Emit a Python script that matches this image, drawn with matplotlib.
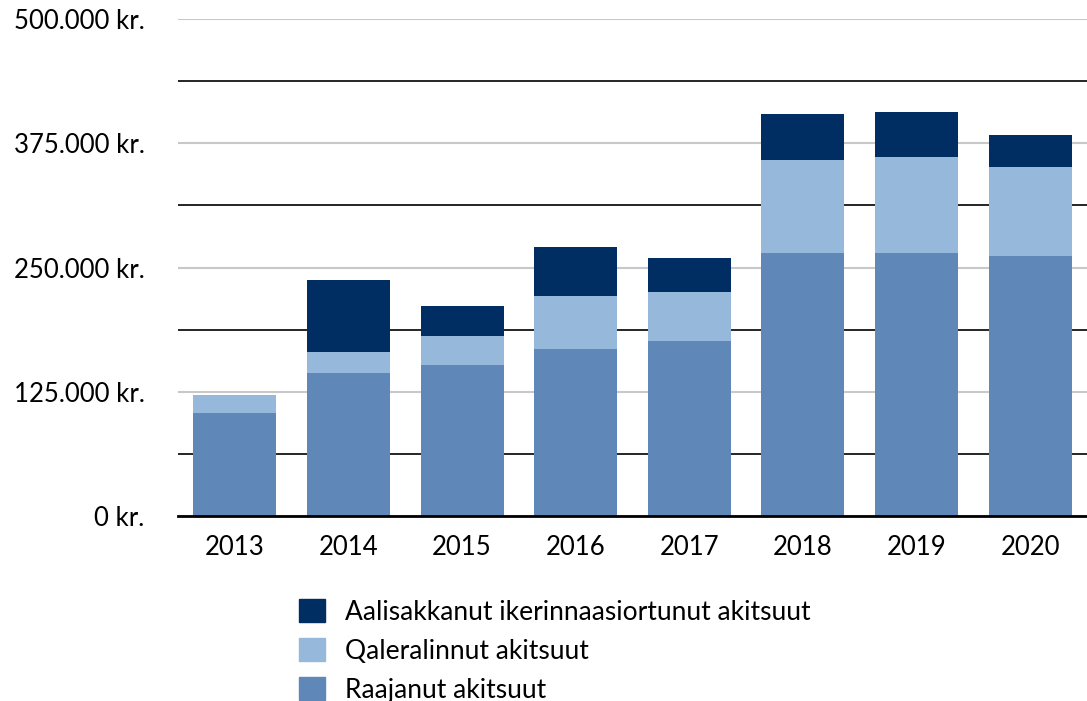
import numpy as np
import matplotlib
matplotlib.use("Agg")
import matplotlib.pyplot as plt
from matplotlib.patches import Patch
from matplotlib.ticker import MultipleLocator, FuncFormatter

plt.rcParams['font.family'] = ['Lato', 'DejaVu Sans']

years = ["2013", "2014", "2015", "2016", "2017", "2018", "2019", "2020"]
raajanut = [104000, 144000, 152000, 168000, 176000, 265000, 265000, 262000]
qaleralinnut = [18000, 21000, 29000, 53000, 49000, 93000, 96000, 89000]
aalisakkanut = [0, 72000, 30000, 50000, 35000, 46000, 45000, 32000]

names = ["Aalisakkanut ikerinnaasiortunut akitsuut", "Qaleralinnut akitsuut", "Raajanut akitsuut"]
clr_dark, clr_light, clr_mid = "#002D62", "#96B8DA", "#5F87B8"

fig = plt.figure(figsize=(10.87, 7.01), dpi=100)
ax = fig.add_axes([178/1087, 1-516/701, 1-178/1087, (516-19)/701])

x = np.arange(len(years))
w = 0.73
b1 = np.array(raajanut)
b2 = b1 + np.array(qaleralinnut)
ax.bar(x, raajanut, w, color=clr_mid, zorder=3)
ax.bar(x, qaleralinnut, w, bottom=b1, color=clr_light, zorder=3)
ax.bar(x, aalisakkanut, w, bottom=b2, color=clr_dark, zorder=3)

ax.set_xlim(-0.5, 7.5)
ax.set_ylim(0, 500000)
ax.yaxis.set_major_locator(MultipleLocator(125000))
ax.yaxis.set_minor_locator(MultipleLocator(62500))
ax.yaxis.set_major_formatter(FuncFormatter(lambda v, p: "0 kr." if v == 0 else "{:,.0f} kr.".format(v).replace(",", ".")))
ax.grid(axis="y", which="major", color="#c8c8c8", lw=1.5, zorder=1)
ax.grid(axis="y", which="minor", color="black", lw=1.2, zorder=1)
ax.tick_params(axis="y", which="both", length=0, pad=24, labelsize=18.5)
ax.tick_params(axis="x", length=0, pad=14, labelsize=18.5)
ax.set_xticks(x)
ax.set_xticklabels(years)
for s in ["top", "right", "left"]:
    ax.spines[s].set_visible(False)
ax.spines["bottom"].set_linewidth(2)
ax.spines["bottom"].set_zorder(4)

handles = [Patch(color=clr_dark), Patch(color=clr_light), Patch(color=clr_mid)]
fig.legend(handles, names, loc="upper left", bbox_to_anchor=(275/1087, 1-575/701),
           frameon=False, fontsize=19, handlelength=1.0, handleheight=1.0,
           handletextpad=0.75, labelspacing=0.5)

fig.savefig("out.png", dpi=100)
